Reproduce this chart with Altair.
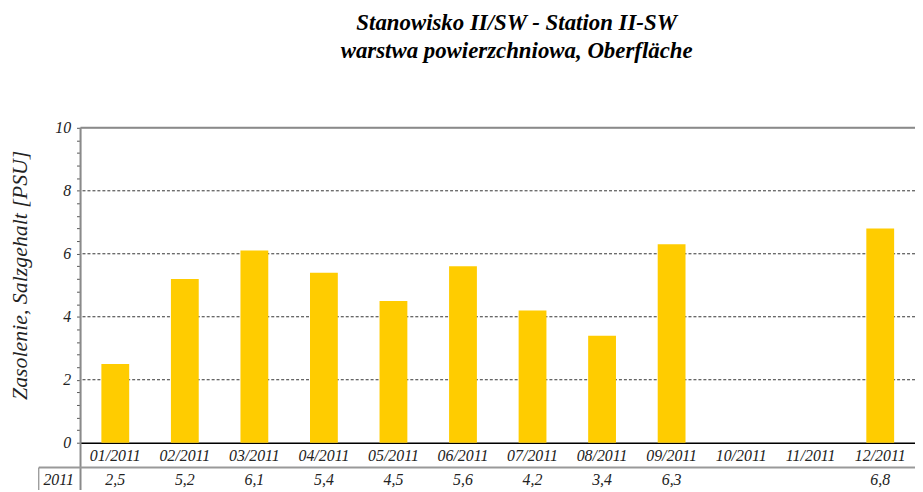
import altair as alt
import pandas as pd

months = ["01/2011", "02/2011", "03/2011", "04/2011", "05/2011", "06/2011",
          "07/2011", "08/2011", "09/2011", "10/2011", "11/2011", "12/2011"]
values = [2.5, 5.2, 6.1, 5.4, 4.5, 5.6, 4.2, 3.4, 6.3, None, None, 6.8]
year_label = "2011"
title_lines = ["Stanowisko II/SW - Station II-SW", "warstwa powierzchniowa,  Oberfläche"]
y_title = "Zasolenie, Salzgehalt [PSU]"
grid_vals = [2, 4, 6, 8]
tick_vals = [round(i * 0.4, 1) for i in range(26)]

W, H = 840, 317
FONT = "Liberation Serif"

df = pd.DataFrame({
    "month": months,
    "value": values,
    "label": ["" if v is None else str(v).replace(".", ",") for v in values],
})

xscale = alt.Scale(domain=months, paddingInner=0.6, paddingOuter=0.3)
yscale = alt.Scale(domain=[0, 10], nice=False)

xaxis = alt.Axis(labelAngle=0, ticks=False, domainColor="#000000",
                 domainWidth=1.5, labelFont=FONT, labelFontStyle="italic",
                 labelFontSize=16, labelColor="#222222", labelPadding=5, title=None)
yaxis = alt.Axis(values=tick_vals, labelOverlap=False, labelBound=False,
                 labelExpr="abs(datum.value - 2 * round(datum.value / 2)) < 0.01 ? format(datum.value, '.0f') : ''",
                 grid=False, domain=False, tickColor="#555555",
                 tickSize=4, tickWidth=1, labelPadding=6,
                 labelFont=FONT, labelFontStyle="italic", labelFontSize=16,
                 labelColor="#222222", title=y_title,
                 titleFont=FONT, titleFontStyle="italic",
                 titleFontWeight="normal", titleFontSize=22,
                 titleColor="#222222", titleAngle=-90,
                 titleX=-61, titleY=148, titleAlign="center",
                 titleBaseline="middle")

X = lambda: alt.X("month:N", sort=months, scale=xscale, axis=xaxis, title=None)
Y = lambda f: alt.Y(f, scale=yscale, axis=yaxis, title=y_title)

grid = alt.Chart(pd.DataFrame({"value": grid_vals})).mark_rule(
    color="#333333", strokeWidth=1, strokeDash=[3, 2]
).encode(y=Y("value:Q"))

bars = alt.Chart(df).mark_bar(color="#FFCC00").encode(x=X(), y=Y("value:Q"))

frame_src = pd.DataFrame({"k": [0]})
top_rule = alt.Chart(frame_src).mark_rule(color="#8a8a8a", strokeWidth=2).encode(
    x=alt.value(0), x2=alt.value(W + 10), y=alt.value(0))
left_rule = alt.Chart(frame_src).mark_rule(color="#8a8a8a", strokeWidth=2).encode(
    x=alt.value(0), y=alt.value(0), y2=alt.value(H + 60))
table_h = alt.Chart(frame_src).mark_rule(color="#999999", strokeWidth=2).encode(
    x=alt.value(-42), x2=alt.value(W + 10), y=alt.value(H + 25))
table_v = alt.Chart(frame_src).mark_rule(color="#777777", strokeWidth=1).encode(
    x=alt.value(-42), y=alt.value(H + 25), y2=alt.value(H + 60))

vals_text = alt.Chart(df).mark_text(
    font=FONT, fontStyle="italic", fontSize=16, color="#222222", baseline="middle"
).encode(x=X(), y=alt.value(H + 38), text="label:N")

year_text = alt.Chart(pd.DataFrame({"t": [year_label]})).mark_text(
    font=FONT, fontStyle="italic", fontSize=16, color="#222222", baseline="middle"
).encode(x=alt.value(-22), y=alt.value(H + 38), text="t:N")

title1 = alt.Chart(pd.DataFrame({"t": [title_lines[0]]})).mark_text(
    font=FONT, fontStyle="italic", fontWeight="bold", fontSize=23, color="#000000",
    baseline="middle"
).encode(x=alt.value(439), y=alt.value(-105), text="t:N")
title2 = alt.Chart(pd.DataFrame({"t": [title_lines[1]]})).mark_text(
    font=FONT, fontStyle="italic", fontWeight="bold", fontSize=23, color="#000000",
    baseline="middle"
).encode(x=alt.value(439), y=alt.value(-77), text="t:N")

chart = alt.layer(
    grid, bars, top_rule, left_rule, table_h, table_v, vals_text, year_text, title1, title2
).properties(
    width=W, height=H,
    autosize=alt.AutoSizeParams(type="none"),
    padding={"left": 73, "top": 119, "right": 0, "bottom": 46},
).configure_view(stroke=None).configure(background="white")

chart.save("out.html", embed_options={"renderer": "svg", "actions": False})
